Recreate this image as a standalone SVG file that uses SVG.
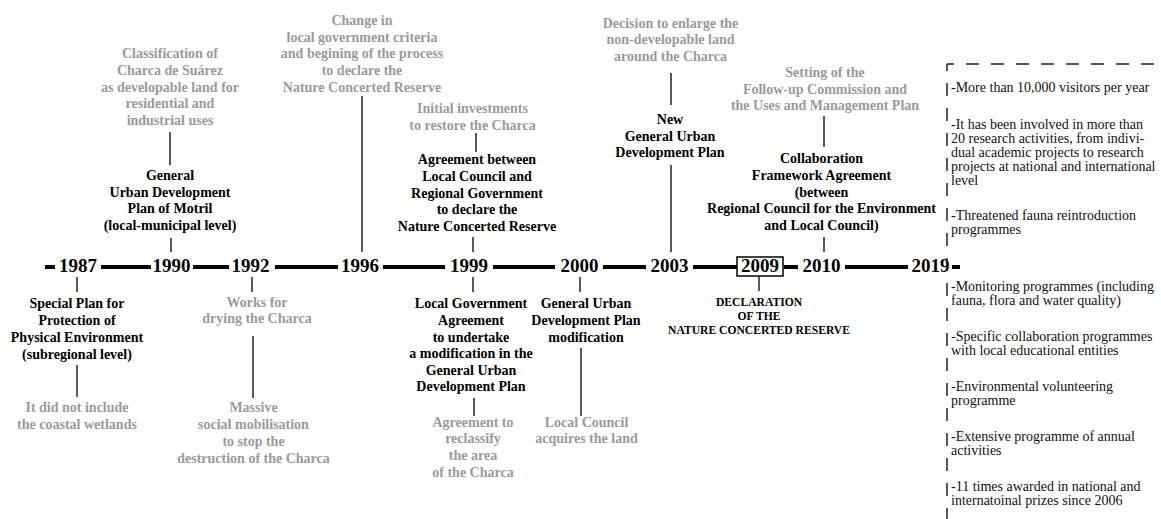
<svg xmlns="http://www.w3.org/2000/svg" width="1161" height="519" viewBox="0 0 1161 519">
<style>
.t{font-family:"Liberation Serif","Times New Roman",serif;font-weight:bold;font-size:14px;text-anchor:middle}
.b{fill:#000}
.g{fill:#9a9a9a}
.yr{font-family:"Liberation Serif","Times New Roman",serif;font-weight:bold;font-size:19px;text-anchor:middle;fill:#000}
.dc{font-family:"Liberation Serif","Times New Roman",serif;font-weight:bold;font-size:11.6px;text-anchor:middle;fill:#000}
.p{font-family:"Liberation Serif","Times New Roman",serif;font-size:14px;fill:#111}
.c line{stroke:#222;stroke-width:1.5}
.tl line{stroke:#000;stroke-width:4}
.brd{stroke:#222;stroke-width:1.5;fill:none;stroke-dasharray:13 12}
</style>
<rect width="1161" height="519" fill="#fff"/>

<g id="timeline" class="tl">
<line x1="45" y1="267" x2="55" y2="267"/>
<line x1="101" y1="267" x2="151" y2="267"/>
<line x1="193" y1="267" x2="229" y2="267"/>
<line x1="275" y1="267" x2="338" y2="267"/>
<line x1="383" y1="267" x2="445" y2="267"/>
<line x1="493" y1="267" x2="555" y2="267"/>
<line x1="603" y1="267" x2="646" y2="267"/>
<line x1="693" y1="267" x2="737" y2="267"/>
<line x1="784" y1="267" x2="798" y2="267"/>
<line x1="845" y1="267" x2="908" y2="267"/>
<line x1="952" y1="267" x2="960" y2="267"/>
</g>

<g id="years">
<text class="yr" x="78" y="272">1987</text>
<text class="yr" x="171.5" y="272">1990</text>
<text class="yr" x="250.5" y="272">1992</text>
<text class="yr" x="360" y="272">1996</text>
<text class="yr" x="469" y="272">1999</text>
<text class="yr" x="579.5" y="272">2000</text>
<text class="yr" x="669.5" y="272">2003</text>
<g id="y2009"><rect x="737" y="257" width="46" height="19" fill="#fff" stroke="#000" stroke-width="1.5"/>
<text class="yr" x="760" y="272">2009</text></g>
<text class="yr" x="821.5" y="272">2010</text>
<text class="yr" x="930.5" y="272">2019</text>
</g>

<g id="connectors" class="c">
<line x1="77" y1="277" x2="77" y2="292"/>
<line x1="77" y1="365" x2="77" y2="397"/>
<line x1="171" y1="238" x2="171" y2="252"/>
<line x1="170" y1="132" x2="170" y2="165"/>
<line x1="362" y1="96" x2="362" y2="252"/>
<line x1="252" y1="277" x2="252" y2="292"/>
<line x1="253" y1="336" x2="253" y2="398"/>
<line x1="476" y1="133" x2="476" y2="152"/>
<line x1="473" y1="237" x2="473" y2="252"/>
<line x1="473" y1="277" x2="473" y2="292"/>
<line x1="474" y1="398" x2="474" y2="416"/>
<line x1="580" y1="277" x2="580" y2="292"/>
<line x1="581" y1="348" x2="581" y2="416"/>
<line x1="671" y1="73" x2="671" y2="105"/>
<line x1="671" y1="165" x2="671" y2="252"/>
<line x1="759" y1="276" x2="759" y2="291"/>
<line x1="824" y1="116" x2="824" y2="147"/>
<line x1="824" y1="237" x2="824" y2="252"/>
</g>

<g id="n1987a"><text class="t b" x="77"><tspan x="77" y="308">Special Plan for</tspan><tspan x="77" y="325">Protection of</tspan><tspan x="77" y="342">Physical Environment</tspan><tspan x="77" y="359">(subregional level)</tspan></text></g>
<g id="n1987b"><text class="t g"><tspan x="77" y="412">It did not include</tspan><tspan x="77" y="429">the coastal wetlands</tspan></text></g>

<g id="n1990a"><text class="t g"><tspan x="170" y="58">Classification of</tspan><tspan x="170" y="75">Charca de Suárez</tspan><tspan x="170" y="92">as developable land for</tspan><tspan x="170" y="108">residential and</tspan><tspan x="170" y="125">industrial uses</tspan></text></g>
<g id="n1990b"><text class="t b"><tspan x="170" y="180">General</tspan><tspan x="170" y="197">Urban Development</tspan><tspan x="170" y="213">Plan of Motril</tspan><tspan x="170" y="230">(local-municipal level)</tspan></text></g>

<g id="n1992a"><text class="t g"><tspan x="257" y="307">Works for</tspan><tspan x="257" y="323">drying the Charca</tspan></text></g>
<g id="n1992b"><text class="t g"><tspan x="253.5" y="412">Massive</tspan><tspan x="253.5" y="429">social mobilisation</tspan><tspan x="253.5" y="446">to stop the</tspan><tspan x="253.5" y="463">destruction of the Charca</tspan></text></g>

<g id="n1996"><text class="t g"><tspan x="362" y="25">Change in</tspan><tspan x="362" y="42">local government criteria</tspan><tspan x="362" y="58">and begining of the process</tspan><tspan x="362" y="75">to declare the</tspan><tspan x="362" y="92">Nature Concerted Reserve</tspan></text></g>

<g id="n1999a"><text class="t g"><tspan x="472.5" y="113">Initial investments</tspan><tspan x="472.5" y="130">to restore the Charca</tspan></text></g>
<g id="n1999b"><text class="t b"><tspan x="477" y="164">Agreement between</tspan><tspan x="477" y="181">Local Council and</tspan><tspan x="477" y="198">Regional Government</tspan><tspan x="477" y="214">to declare the</tspan><tspan x="477" y="231">Nature Concerted Reserve</tspan></text></g>
<g id="n1999c"><text class="t b"><tspan x="471" y="308">Local Government</tspan><tspan x="471" y="325">Agreement</tspan><tspan x="471" y="342">to undertake</tspan><tspan x="471" y="358">a modification in the</tspan><tspan x="471" y="375">General Urban</tspan><tspan x="471" y="391">Development Plan</tspan></text></g>
<g id="n1999d"><text class="t g"><tspan x="473" y="427">Agreement to</tspan><tspan x="473" y="443">reclassify</tspan><tspan x="473" y="460">the area</tspan><tspan x="473" y="477">of the Charca</tspan></text></g>

<g id="n2000a"><text class="t b"><tspan x="586" y="308">General Urban</tspan><tspan x="586" y="325">Development Plan</tspan><tspan x="586" y="342">modification</tspan></text></g>
<g id="n2000b"><text class="t g"><tspan x="586.5" y="427">Local Council</tspan><tspan x="586.5" y="443">acquires the land</tspan></text></g>

<g id="n2003a"><text class="t g"><tspan x="670.5" y="28">Decision to enlarge the</tspan><tspan x="670.5" y="44">non-developable land</tspan><tspan x="670.5" y="61">around the Charca</tspan></text></g>
<g id="n2003b"><text class="t b"><tspan x="670" y="124">New</tspan><tspan x="670" y="141">General Urban</tspan><tspan x="670" y="157">Development Plan</tspan></text></g>

<g id="n2009"><text class="dc"><tspan x="759" y="306">DECLARATION</tspan><tspan x="759" y="320">OF THE</tspan><tspan x="759" y="334">NATURE CONCERTED RESERVE</tspan></text></g>

<g id="n2010a"><text class="t g"><tspan x="825" y="77">Setting of the</tspan><tspan x="825" y="94">Follow-up Commission and</tspan><tspan x="825" y="110">the Uses and Management Plan</tspan></text></g>
<g id="n2010b"><text class="t b"><tspan x="821.5" y="163">Collaboration</tspan><tspan x="821.5" y="180">Framework Agreement</tspan><tspan x="821.5" y="197">(between</tspan><tspan x="821.5" y="213">Regional Council for the Environment</tspan><tspan x="821.5" y="230">and Local Council)</tspan></text></g>

<g id="n2019">
<path class="brd" d="M947 64 H1161" stroke-dashoffset="6"/>
<path class="brd" d="M947 64 V519" stroke-dashoffset="6"/>
<text class="p"><tspan x="951" y="92">-More than 10,000 visitors per year</tspan>
<tspan x="951" y="129">-It has been  involved in more than</tspan>
<tspan x="951" y="143">20 research activities, from indivi-</tspan>
<tspan x="951" y="157">dual academic projects to research</tspan>
<tspan x="951" y="171">projects at national and international</tspan>
<tspan x="951" y="185">level</tspan>
<tspan x="951" y="220">-Threatened fauna reintroduction</tspan>
<tspan x="951" y="234">programmes</tspan>
<tspan x="951" y="291">-Monitoring programmes (including</tspan>
<tspan x="951" y="305">fauna, flora and water quality)</tspan>
<tspan x="951" y="341">-Specific collaboration programmes</tspan>
<tspan x="951" y="355">with local educational entities</tspan>
<tspan x="951" y="391">-Environmental volunteering</tspan>
<tspan x="951" y="405">programme</tspan>
<tspan x="951" y="441">-Extensive programme of annual</tspan>
<tspan x="951" y="455">activities</tspan>
<tspan x="951" y="491">-11 times awarded in national and</tspan>
<tspan x="951" y="505">internatoinal prizes since 2006</tspan></text>
</g>
</svg>
